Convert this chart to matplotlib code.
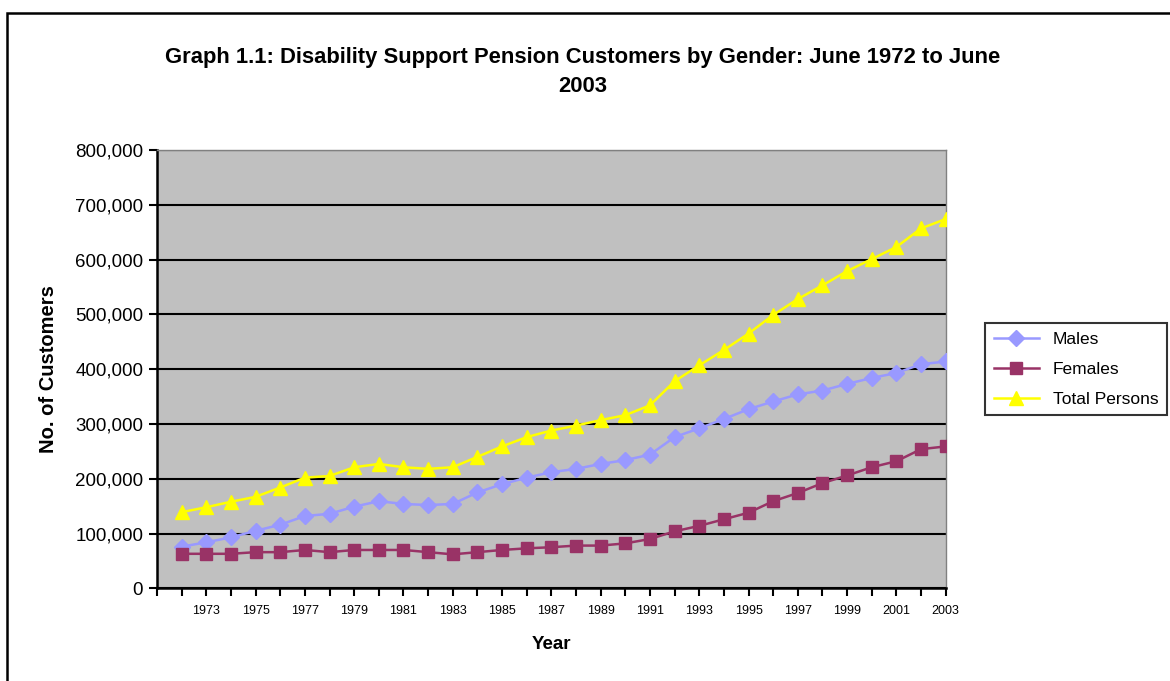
import matplotlib.pyplot as plt
from matplotlib.patches import Rectangle
from matplotlib.ticker import FuncFormatter

plt.rcParams['font.family'] = ['Liberation Sans', 'DejaVu Sans']

# Data
years = list(range(1972, 2004))
males = [76000, 84000, 93000, 105000, 116000, 132000, 136000, 149000, 159000, 154000,
         152000, 154000, 175000, 190000, 202000, 212000, 218000, 227000, 234000, 244000,
         276000, 292000, 309000, 327000, 341000, 354000, 361000, 373000, 384000, 393000,
         409000, 414000]
females = [63000, 63000, 63000, 66000, 66000, 70000, 66000, 70000, 70000, 70000,
           66000, 62000, 66000, 70000, 73000, 75000, 78000, 78000, 82000, 90000,
           104000, 114000, 126000, 138000, 159000, 174000, 192000, 206000, 221000, 232000,
           254000, 259000]
total = [139000, 148000, 158000, 167000, 184000, 202000, 205000, 221000, 227000, 221000,
         218000, 221000, 240000, 259000, 276000, 288000, 297000, 307000, 316000, 334000,
         378000, 407000, 435000, 465000, 499000, 528000, 553000, 579000, 601000, 623000,
         657000, 674000]

fig = plt.figure(figsize=(11.7, 6.81), dpi=100)
ax = fig.add_axes([0.1342, 0.1361, 0.8083 - 0.1342, 0.7797 - 0.1361])

# outer chart border (cut off at right and bottom)
fig.patches.append(Rectangle((7 / 1170, -0.1), 1.2, 1 - 13 / 681 + 0.1,
                             transform=fig.transFigure, fill=False,
                             edgecolor='black', linewidth=1.8))

ax.set_facecolor('#C0C0C0')
ax.plot(years, males, color='#9999FF', marker='D', markersize=8, linewidth=1.8,
        markeredgecolor='#9999FF', label='Males', zorder=3)
ax.plot(years, females, color='#993366', marker='s', markersize=9, linewidth=1.8,
        markeredgecolor='#993366', label='Females', zorder=3)
ax.plot(years, total, color='#FFFF00', marker='^', markersize=10, linewidth=1.8,
        markeredgecolor='#FFFF00', label='Total Persons', zorder=3)

ax.set_xlim(1971, 2003)
ax.set_ylim(0, 800000)
ax.set_yticks(range(0, 800001, 100000))
ax.yaxis.set_major_formatter(FuncFormatter(lambda v, p: f'{int(v):,}'))
ax.set_xticks(range(1971, 2004))
ax.set_xticklabels([str(y) if y % 2 == 1 and y > 1971 else '' for y in range(1971, 2004)])
ax.grid(axis='y', color='black', linewidth=1.5)
ax.set_axisbelow(True)

ax.tick_params(axis='y', labelsize=13.5, length=6, width=1.5, pad=4)
ax.tick_params(axis='x', labelsize=9, length=6, width=1.5, pad=6)

for s in ['top', 'right']:
    ax.spines[s].set_color('#808080')
    ax.spines[s].set_linewidth(1)
for s in ['left', 'bottom']:
    ax.spines[s].set_color('black')
    ax.spines[s].set_linewidth(1.8)

ax.set_xlabel('Year', fontsize=13.5, fontweight='bold', labelpad=14)
ax.set_ylabel('No. of Customers', fontsize=14.5, fontweight='bold', labelpad=12)

fig.text(0.498, 1 - 72 / 681,
         'Graph 1.1: Disability Support Pension Customers by Gender: June 1972 to June\n2003',
         ha='center', va='center', fontsize=15.8, fontweight='bold', linespacing=1.55)

leg = ax.legend(loc='center left', bbox_to_anchor=(1.05, 0.5), fontsize=12.5,
                frameon=True, fancybox=False, edgecolor='black', borderpad=0.5,
                handlelength=2.6, labelspacing=0.85, borderaxespad=0)
leg.get_frame().set_linewidth(1.5)

fig.savefig('out.png', dpi=100)
